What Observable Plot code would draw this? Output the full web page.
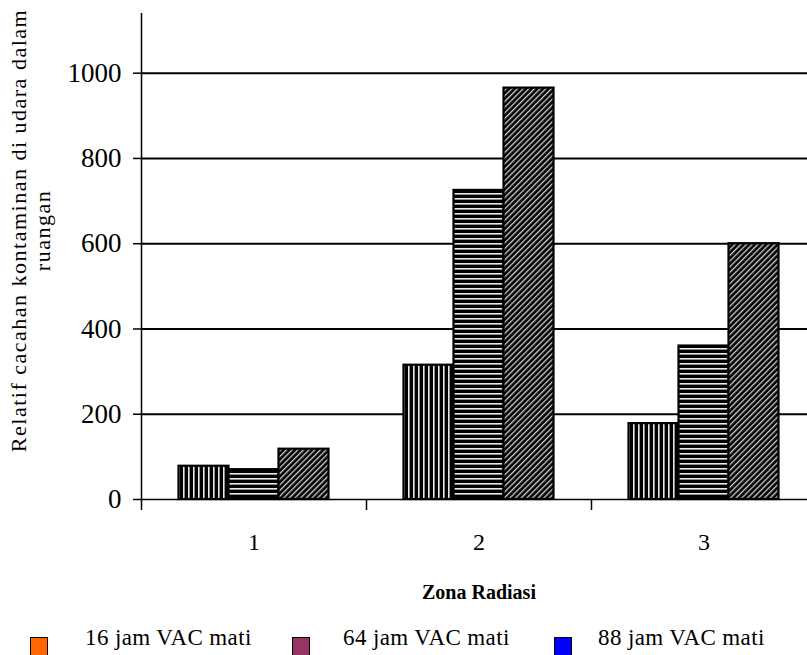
<!DOCTYPE html>
<html><head><meta charset="utf-8">
<script src="https://cdn.jsdelivr.net/npm/d3@7"></script>
<script src="https://cdn.jsdelivr.net/npm/@observablehq/plot@0.6"></script>
<style>
html,body{margin:0;padding:0;background:#fff;overflow:hidden}
#chart{position:relative;width:807px;height:655px;overflow:hidden}
#chart svg{position:absolute;left:0;top:0;max-width:none !important}
.leg{position:absolute;font-family:"Liberation Serif",serif;font-size:23px;letter-spacing:0.4px;white-space:nowrap;line-height:1;color:#000}
.sw{position:absolute;width:18px;height:20px;border:1px solid #000;box-sizing:border-box}
</style></head><body><div id="chart"></div>
<script>
const zones = [1, 2, 3];
const series = ["16 jam VAC mati", "64 jam VAC mati", "88 jam VAC mati"];
const values16 = [78, 315, 178];
const values64 = [70, 725, 360];
const values88 = [118, 965, 600];
const yTicks = [0, 200, 400, 600, 800, 1000];
const legendColors = ["#FF6600", "#993366", "#0000FF"];
const yTitle = "Relatif cacahan kontaminan di udara dalam\nruangan";
const xTitle = "Zona Radiasi";

const seriesValues = [values16, values64, values88];
const patternIds = ["pv", "ph", "pd"];
const data = [];
zones.forEach((z, i) => {
  seriesValues.forEach((vals, j) => {
    const x1 = z - 1/3 + j * 2/9;
    data.push({zone: z, series: series[j], value: vals[i], x1, x2: x1 + 2/9});
  });
});

const W = 816, H = 612;
const plot = Plot.plot({
  width: W, height: H,
  marginLeft: 141, marginRight: 0, marginTop: 13, marginBottom: 113,
  style: {fontFamily: "'Liberation Serif', serif", color: "#000", background: "transparent", maxWidth: "none"},
  x: {domain: [0.5, 3.5]},
  y: {domain: [0, 1140]},
  color: {domain: series, range: patternIds.map(id => `url(#${id})`)},
  marks: [
    Plot.ruleY(yTicks.slice(1), {stroke: "#000", strokeWidth: 2}),
    Plot.rectY(data, {x1: "x1", x2: "x2", y: "value", fill: "series", stroke: "#000", strokeWidth: 2.2}),
    Plot.ruleY([0], {stroke: "#000", strokeWidth: 1.5}),
    Plot.ruleX([0.5], {stroke: "#000", strokeWidth: 1.5}),
    Plot.axisY({ticks: yTicks, tickFormat: d => String(d), tickSize: 8, tickPadding: 12, label: null, fontSize: 27, strokeWidth: 1.5}),
    Plot.axisX({ticks: [0.5, 1.5, 2.5, 3.5], tickFormat: () => "", tickSize: 11, label: null, strokeWidth: 1.5}),
    Plot.axisX({ticks: zones, tickFormat: d => String(d), tickSize: 0, tickPadding: 33, label: null, fontSize: 24}),
    Plot.text([yTitle], {frameAnchor: "left", textAnchor: "middle", lineAnchor: "middle", dx: -111, dy: -26, rotate: -90, fontSize: 22, lineHeight: 1.1}),
    Plot.text([xTitle], {frameAnchor: "bottom", lineAnchor: "middle", dy: 93, fontSize: 20, fontWeight: "bold"})
  ]
});

const ns = "http://www.w3.org/2000/svg";
const defs = document.createElementNS(ns, "defs");
defs.innerHTML = `
<pattern id="pv" patternUnits="userSpaceOnUse" width="5" height="5">
  <rect width="5" height="5" fill="#000"/><rect x="3" width="1.6" height="5" fill="#e8e8e8"/>
</pattern>
<pattern id="ph" patternUnits="userSpaceOnUse" width="5" height="5">
  <rect width="5" height="5" fill="#000"/><rect y="3" width="5" height="1.6" fill="#e8e8e8"/>
</pattern>
<pattern id="pd" patternUnits="userSpaceOnUse" width="4" height="4" patternTransform="rotate(45)">
  <rect width="4" height="4" fill="#000"/><rect x="0" width="1.3" height="4" fill="#d0d0d0"/>
</pattern>`;
plot.insertBefore(defs, plot.firstChild);
plot.querySelectorAll("text").forEach(t => {
  if (t.textContent.startsWith("Relatif")) t.setAttribute("letter-spacing", "1.5");
});

const chart = document.getElementById("chart");
chart.appendChild(plot);

const swLeft = [30, 292, 554];
const txLeft = [85, 343, 598];
series.forEach((s, i) => {
  const sw = document.createElement("div");
  sw.className = "sw";
  sw.style.left = swLeft[i] + "px";
  sw.style.top = "637px";
  sw.style.background = legendColors[i];
  chart.appendChild(sw);
  const t = document.createElement("div");
  t.className = "leg";
  t.style.left = txLeft[i] + "px";
  t.style.top = "626px";
  t.textContent = s;
  chart.appendChild(t);
});
</script></body></html>
